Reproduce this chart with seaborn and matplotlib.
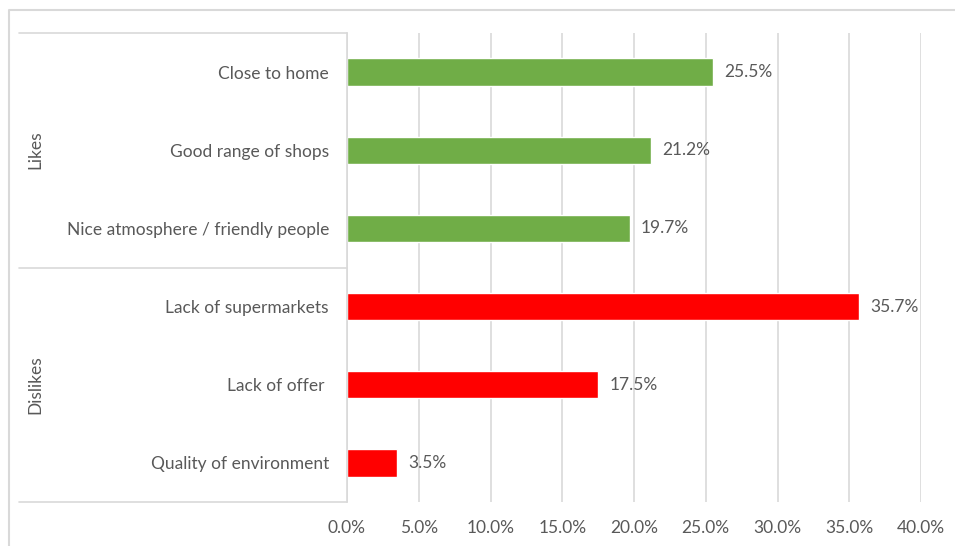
import matplotlib
matplotlib.use("Agg")
import matplotlib.pyplot as plt
from matplotlib.lines import Line2D
from matplotlib.ticker import FuncFormatter
import seaborn as sns
import pandas as pd

categories = ["Close to home", "Good range of shops", "Nice atmosphere / friendly people",
              "Lack of supermarkets", "Lack of offer ", "Quality of environment"]
values = [25.5, 21.2, 19.7, 35.7, 17.5, 3.5]
groups = ["Likes", "Likes", "Likes", "Dislikes", "Dislikes", "Dislikes"]
x_ticks = [0, 5, 10, 15, 20, 25, 30, 35, 40]

df = pd.DataFrame({"category": categories, "value": values, "group": groups})

sns.set_theme(style="white")
plt.rcParams['font.family'] = ['Lato', 'DejaVu Sans']
TXT = "#595959"
GRID = "#D9D9D9"
FS = 12.5

fig = plt.figure(figsize=(9.55, 5.46), dpi=100)
W, H = 955, 546
ax = fig.add_axes([347 / W, 1 - 502 / H, (921 - 347) / W, (502 - 33) / H])

palette = {"Likes": "#70AD47", "Dislikes": "#FF0000"}
sns.barplot(data=df, y="category", x="value", hue="group", palette=palette,
            dodge=False, width=0.35, legend=False, ax=ax, orient="h", saturation=1)

ax.set_xlim(0, 40)
ax.set_ylim(5.5, -0.5)
ax.set_xticks(x_ticks)
ax.xaxis.set_major_formatter(FuncFormatter(lambda v, p: f"{v:.1f}%"))
ax.set_xlabel("")
ax.set_ylabel("")
ax.grid(axis="x", color=GRID, linewidth=1.2)
ax.set_axisbelow(True)
for s in ["top", "right", "bottom"]:
    ax.spines[s].set_visible(False)
ax.spines["left"].set_color(GRID)
ax.spines["left"].set_linewidth(1.2)
ax.tick_params(axis="x", colors=TXT, labelsize=FS, length=0, pad=13)
ax.tick_params(axis="y", colors=TXT, labelsize=FS, length=0, pad=13)

for c in ax.containers:
    ax.bar_label(c, labels=[f"{v:.1f}%" for v in c.datavalues], padding=8,
                 color=TXT, fontsize=FS)

# group separators and labels
for yp in [33, 268, 502]:
    fig.add_artist(Line2D([19 / W, 347 / W], [1 - yp / H, 1 - yp / H],
                          color=GRID, linewidth=1.2, transform=fig.transFigure))
fig.text(35 / W, 1 - 150 / H, "Likes", rotation=90, ha="center", va="center",
         color=TXT, fontsize=FS)
fig.text(35 / W, 1 - 385 / H, "Dislikes", rotation=90, ha="center", va="center",
         color=TXT, fontsize=FS)

# outer chart border (extends beyond right/bottom edges)
fig.add_artist(Line2D([9 / W, 9 / W, 1.0], [0, 1 - 10 / H, 1 - 10 / H],
                      color=GRID, linewidth=1.5, transform=fig.transFigure))

fig.savefig("out.png", dpi=100, facecolor="white")
